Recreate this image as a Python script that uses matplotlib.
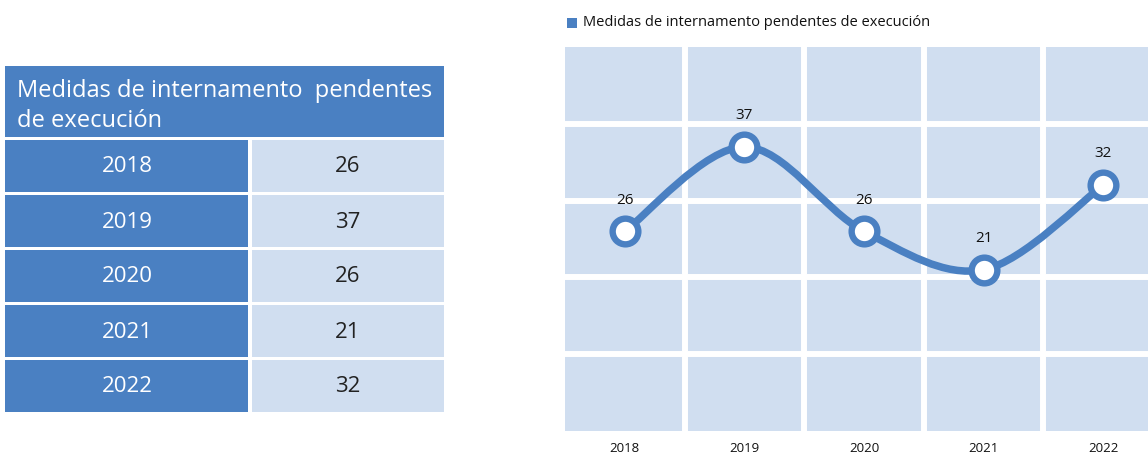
import numpy as np
import matplotlib
matplotlib.use('Agg')
import matplotlib.pyplot as plt
from matplotlib.patches import Rectangle, PathPatch
from matplotlib.path import Path

plt.rcParams['font.family'] = ['Open Sans', 'DejaVu Sans']

# Data
years = ['2018', '2019', '2020', '2021', '2022']
values = [26, 37, 26, 21, 32]
series_name = 'Medidas de internamento pendentes de execución'
table_header = ['Medidas de internamento  pendentes', 'de execución']

blue = '#4a80c2'
light = '#d0def0'
W, H = 1148, 458

fig = plt.figure(figsize=(W / 100, H / 100), dpi=100)

# Table on the left, drawn in pixel coordinates
tab = fig.add_axes([0, 0, 1, 1])
tab.set_xlim(0, W)
tab.set_ylim(H, 0)
tab.axis('off')

tab.add_patch(Rectangle((5, 66), 439, 71, color=blue, lw=0))
tab.text(17, 97, table_header[0], color='white', fontsize=17, va='baseline')
tab.text(17, 127, table_header[1], color='white', fontsize=17, va='baseline')

for i, (yr, v) in enumerate(zip(years, values)):
    top = 140 + i * 55
    tab.add_patch(Rectangle((5, top), 243, 52, color=blue, lw=0))
    tab.add_patch(Rectangle((252, top), 192, 52, color=light, lw=0))
    tab.text(127, top + 27, yr, color='white', fontsize=16, ha='center', va='center')
    tab.text(348, top + 27, str(v), color='#222222', fontsize=16, ha='center', va='center')

# Line chart on the right
left, right = 565, 1163
top_px, bot_px = 47, 431
ax = fig.add_axes([left / W, (H - bot_px) / H, (right - left) / W, (bot_px - top_px) / H])
ax.set_facecolor(light)
for s in ax.spines.values():
    s.set_visible(False)
ax.set_xlim(-0.5, 4.5)
ax.set_ylim(0, 50)

x = np.arange(len(years))
ax.set_xticks(x)
ax.set_xticklabels(years, fontsize=9.5, color='#111111')
ax.set_xticks(x[:-1] + 0.5, minor=True)
ax.set_yticks([10, 20, 30, 40])
ax.set_yticklabels([])
ax.tick_params(axis='both', which='both', length=0)
ax.tick_params(axis='x', pad=8)
ax.grid(True, axis='y', color='white', lw=4.3)
ax.grid(True, axis='x', which='minor', color='white', lw=4.3)
ax.grid(False, axis='x', which='major')
ax.set_axisbelow(True)

# smoothed line through the points (bezier segments)
pts = list(zip(x.astype(float), values))
verts = [pts[0]]
codes = [Path.MOVETO]
n = len(pts)
for i in range(n - 1):
    p0 = pts[max(i - 1, 0)]
    p1 = pts[i]
    p2 = pts[i + 1]
    p3 = pts[min(i + 2, n - 1)]
    c1 = (p1[0] + (p2[0] - p0[0]) / 6, p1[1] + (p2[1] - p0[1]) / 6)
    c2 = (p2[0] - (p3[0] - p1[0]) / 6, p2[1] - (p3[1] - p1[1]) / 6)
    verts += [c1, c2, p2]
    codes += [Path.CURVE4] * 3
ax.add_patch(PathPatch(Path(verts, codes), fill=False, edgecolor=blue,
                       lw=5.4, capstyle='round', zorder=3))
ax.plot(x, values, ls='none', marker='o', ms=18.5, mfc='white',
        mec=blue, mew=4.6, zorder=4)

for xi, v in zip(x, values):
    ax.annotate(str(v), (xi, v), xytext=(0, 22.5), textcoords='offset points',
                ha='center', va='center', fontsize=11, color='#111111')

# legend
fig.patches.append(Rectangle((567 / W, (H - 28) / H), 10 / W, 10 / H,
                             transform=fig.transFigure, color=blue, lw=0))
fig.text(583 / W, (H - 22) / H, series_name, fontsize=10.5, va='center',
         color='#111111')

fig.savefig('out.png', dpi=100)
